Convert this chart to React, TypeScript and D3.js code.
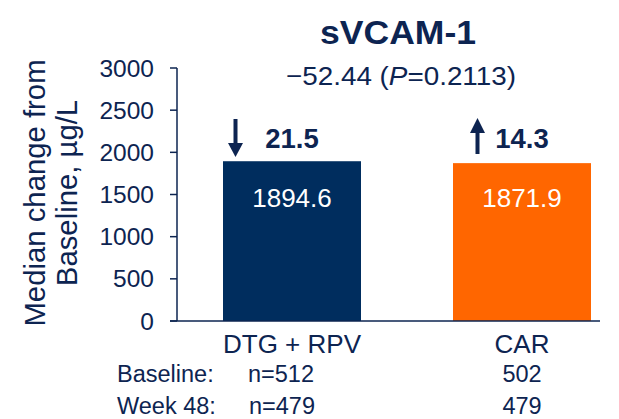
import React from "react";
import * as d3 from "d3";

const categories = ["DTG + RPV", "CAR"];
const medians = [1894.6, 1871.9];
const changes = ["21.5", "14.3"];
const directions = ["down", "up"];
const baselineN = ["n=512", "502"];
const week48N = ["n=479", "479"];
const yTicks = [0, 500, 1000, 1500, 2000, 2500, 3000];
const title = "sVCAM-1";
const diffText = "\u221252.44 (";
const pText = "0.2113)";

const W = 619;
const H = 419;
const NAVY = "#0D2451";
const BAR_COLORS = ["#002D5E", "#FF6600"];
const FONT = "Arial, 'Liberation Sans', Helvetica, sans-serif";

export default function App() {
  const y = d3.scaleLinear().domain([0, 3000]).range([321, 68]);
  const x = d3
    .scaleBand<string>()
    .domain(categories)
    .range([177, 637])
    .paddingInner(0.4)
    .paddingOuter(0.2);
  const axisX = 177;
  const bw = x.bandwidth();

  return (
    <div style={{ position: "absolute", left: 0, top: 0 }}>
      <svg width={W} height={H} style={{ display: "block", fontFamily: FONT }}>
        <rect width={W} height={H} fill="#fff" />
        {/* title */}
        <text
          x={398}
          y={44}
          textAnchor="middle"
          fontSize={34}
          fontWeight="bold"
          fill={NAVY}
          textLength={156}
          lengthAdjust="spacingAndGlyphs"
        >
          {title}
        </text>
        <text
          x={401}
          y={85}
          textAnchor="middle"
          fontSize={26}
          fill={NAVY}
          textLength={230}
          lengthAdjust="spacingAndGlyphs"
        >
          {diffText}
          <tspan fontStyle="italic">P</tspan>
          {"="}
          {pText}
        </text>
        {/* y-axis title */}
        <g transform="translate(0,193) rotate(-90)">
          <text x={0} y={45} textAnchor="middle" fontSize={29.3} fill={NAVY}>
            Median change from
          </text>
          <text x={0} y={77} textAnchor="middle" fontSize={29.3} fill={NAVY}>
            Baseline, µg/L
          </text>
        </g>
        {/* bars */}
        {categories.map((c, i) => (
          <rect
            key={c}
            x={x(c)}
            y={y(medians[i])}
            width={bw}
            height={y(0) - y(medians[i])}
            fill={BAR_COLORS[i]}
          />
        ))}
        {/* axes */}
        <line x1={axisX} x2={axisX} y1={y(3000)} y2={y(0)} stroke={NAVY} strokeWidth={1.5} />
        <line x1={170} x2={600} y1={y(0)} y2={y(0)} stroke={NAVY} strokeWidth={1.5} />
        {yTicks.map((t) => (
          <g key={t}>
            <line x1={170} x2={axisX} y1={y(t)} y2={y(t)} stroke={NAVY} strokeWidth={1.5} />
            <text x={154} y={y(t) + 8.5} textAnchor="end" fontSize={24.5} fill={NAVY}>
              {t}
            </text>
          </g>
        ))}
        {/* value labels */}
        {categories.map((c, i) => {
          const cx = (x(c) as number) + bw / 2;
          return (
            <g key={c + "lab"}>
              <text x={cx} y={207} textAnchor="middle" fontSize={26} fill="#fff">
                {medians[i].toFixed(1)}
              </text>
              <text x={cx} y={148} textAnchor="middle" fontSize={27.5} fontWeight="bold" fill={NAVY}>
                {changes[i]}
              </text>
              <text x={cx} y={353} textAnchor="middle" fontSize={26} fill={NAVY}>
                {c}
              </text>
            </g>
          );
        })}
        {/* arrows */}
        {categories.map((c, i) => {
          const cx = (x(c) as number) + bw / 2;
          if (directions[i] === "down") {
            const ax = cx - 56.5;
            return (
              <g key={c + "arr"} fill={NAVY}>
                <rect x={ax - 2} y={119} width={4} height={26} />
                <path d={`M${ax - 7.5},${143} L${ax + 7.5},${143} L${ax},${157} Z`} />
              </g>
            );
          }
          const ax = cx - 44.5;
          return (
            <g key={c + "arr"} fill={NAVY}>
              <rect x={ax - 2} y={130} width={4} height={24} />
              <path d={`M${ax - 7.5},${133} L${ax + 7.5},${133} L${ax},${118} Z`} />
            </g>
          );
        })}
        {/* n rows */}
        <text x={117} y={382} fontSize={23.5} fill={NAVY}>Baseline:</text>
        <text x={117} y={414} fontSize={23.5} fill={NAVY}>Week 48:</text>
        {categories.map((c, i) => {
          const cx = (x(c) as number) + bw / 2;
          return i === 0 ? (
            <g key={c + "n"}>
              <text x={248} y={382} fontSize={23.5} fill={NAVY}>{baselineN[i]}</text>
              <text x={249} y={414} fontSize={23.5} fill={NAVY}>{week48N[i]}</text>
            </g>
          ) : (
            <g key={c + "n"}>
              <text x={cx} y={382} textAnchor="middle" fontSize={23.5} fill={NAVY}>{baselineN[i]}</text>
              <text x={cx} y={414} textAnchor="middle" fontSize={23.5} fill={NAVY}>{week48N[i]}</text>
            </g>
          );
        })}
      </svg>
    </div>
  );
}
